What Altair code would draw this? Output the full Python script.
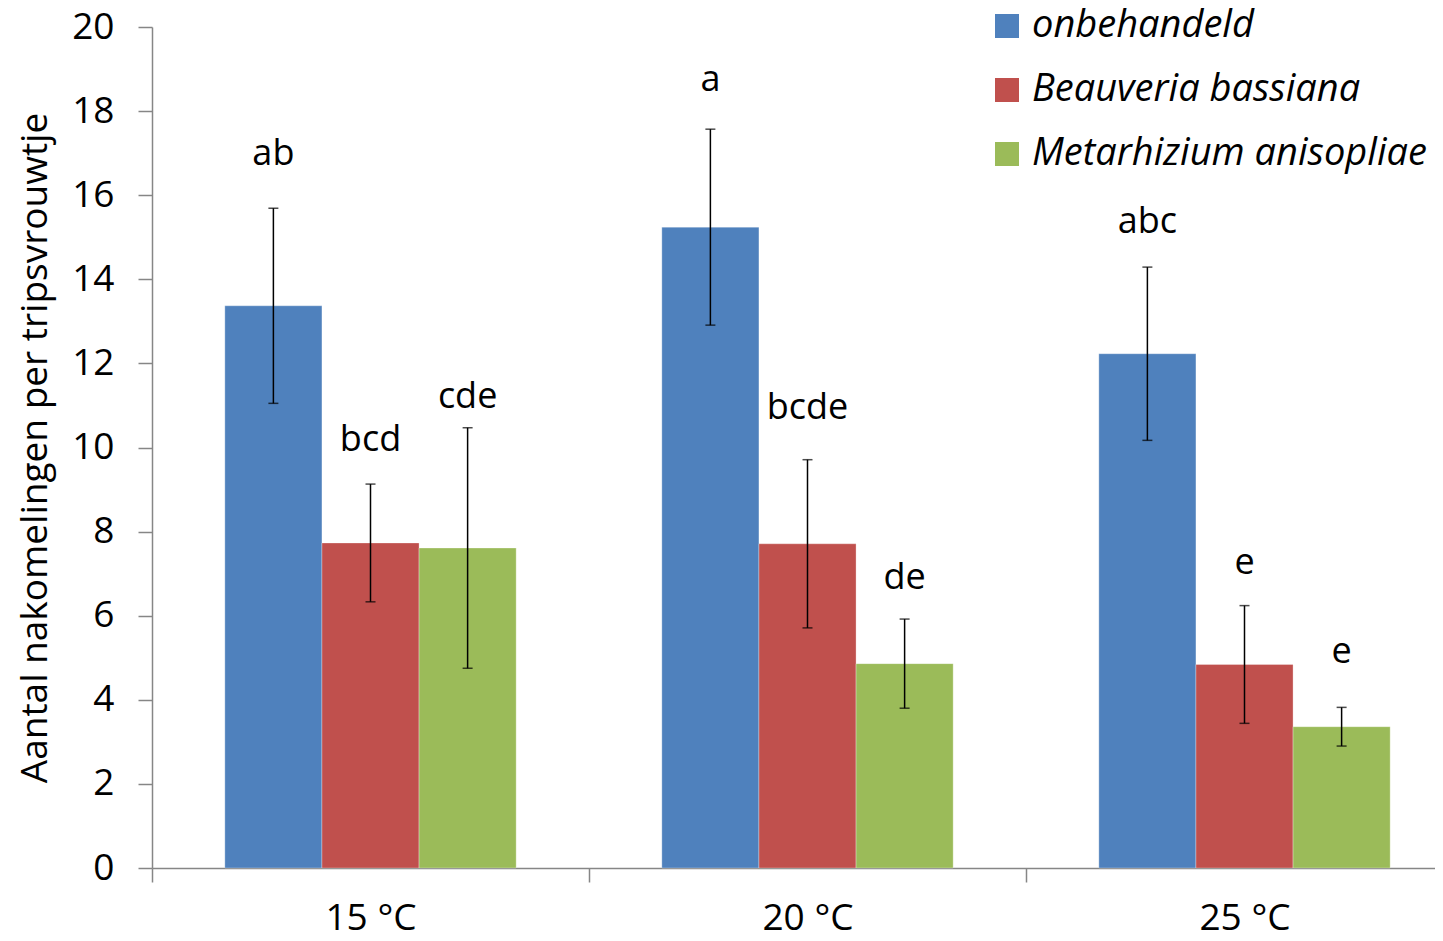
import altair as alt
import pandas as pd

temps = ["15 °C", "20 °C", "25 °C"]
treatments = ["onbehandeld", "Beauveria bassiana", "Metarhizium anisopliae"]
colors = ["#4F81BD", "#C0504D", "#9BBB59"]

mean_onb = [13.37, 15.24, 12.23]
mean_bea = [7.73, 7.71, 4.84]
mean_met = [7.61, 4.86, 3.36]

err_onb = [2.32, 2.33, 2.06]
err_bea = [1.40, 2.00, 1.40]
err_met = [2.86, 1.06, 0.46]

letters_onb = ["ab", "a", "abc"]
letters_bea = ["bcd", "bcde", "e"]
letters_met = ["cde", "de", "e"]

label_y_onb = [16.98, 18.74, 15.36]
label_y_bea = [10.18, 10.94, 7.25]
label_y_met = [11.21, 6.90, 5.14]

y_ticks = [0, 2, 4, 6, 8, 10, 12, 14, 16, 18, 20]

rows = []
for t_i, (means, errs, lets, lys) in enumerate([
    (mean_onb, err_onb, letters_onb, label_y_onb),
    (mean_bea, err_bea, letters_bea, label_y_bea),
    (mean_met, err_met, letters_met, label_y_met),
]):
    for c_i, temp in enumerate(temps):
        rows.append({
            "temp": temp,
            "treatment": treatments[t_i],
            "mean": means[c_i],
            "lo": means[c_i] - errs[c_i],
            "hi": means[c_i] + errs[c_i],
            "letter": lets[c_i],
            "ly": lys[c_i],
        })
df = pd.DataFrame(rows)

FONT = "Open Sans"
AXIS_GREY = "#868686"

x = alt.X(
    "temp:N",
    sort=temps,
    scale=alt.Scale(range=[0, 1311], paddingInner=0, paddingOuter=0),
    axis=alt.Axis(
        title=None,
        labelAngle=0,
        labelFontSize=37,
        labelFont=FONT,
        labelColor="black",
        labelPadding=18,
        tickBand="extent",
        tickSize=14,
        tickColor=AXIS_GREY,
        tickWidth=1.5,
        domainColor=AXIS_GREY,
        domainWidth=1.5,
    ),
)
xo = alt.XOffset(
    "treatment:N",
    sort=treatments,
    scale=alt.Scale(paddingOuter=0.75, paddingInner=0),
)
y_scale = alt.Scale(domain=[0, 20], nice=False)

bars = alt.Chart(df).mark_bar(stroke="white", strokeOpacity=0.3, strokeWidth=1).encode(
    x=x,
    xOffset=xo,
    y=alt.Y(
        "mean:Q",
        scale=y_scale,
        axis=alt.Axis(
            title="Aantal nakomelingen per tripsvrouwtje",
            titleFontSize=37,
            titleFont=FONT,
            titleFontWeight="normal",
            titleColor="black",
            titlePadding=17,
            values=y_ticks,
            labelFontSize=37,
            labelFont=FONT,
            labelColor="black",
            labelPadding=24,
            tickSize=14,
            tickColor=AXIS_GREY,
            tickWidth=1.5,
            domainColor=AXIS_GREY,
            domainWidth=1.5,
            grid=False,
        ),
    ),
    color=alt.Color(
        "treatment:N",
        sort=treatments,
        scale=alt.Scale(domain=treatments, range=colors),
        legend=alt.Legend(
            title=None,
            orient="none",
            legendX=836,
            legendY=-20,
            symbolType="square",
            symbolSize=576,
            symbolStrokeWidth=0,
            symbolOpacity=1,
            labelFontSize=38,
            labelFont=FONT,
            labelFontStyle="italic",
            labelColor="black",
            labelOffset=6,
            rowPadding=26,
            labelLimit=600,
        ),
    ),
)

rules = alt.Chart(df).mark_rule(color="black", strokeWidth=1.5).encode(
    x=x, xOffset=xo, y=alt.Y("lo:Q", scale=y_scale), y2="hi:Q"
)
cap_hi = alt.Chart(df).mark_tick(color="black", thickness=1.5, size=10).encode(
    x=x, xOffset=xo, y=alt.Y("hi:Q", scale=y_scale)
)
cap_lo = alt.Chart(df).mark_tick(color="black", thickness=1.5, size=10).encode(
    x=x, xOffset=xo, y=alt.Y("lo:Q", scale=y_scale)
)
texts = alt.Chart(df).mark_text(
    font=FONT, fontSize=36, color="black", baseline="middle", align="center"
).encode(
    x=x, xOffset=xo, y=alt.Y("ly:Q", scale=y_scale), text="letter:N"
)

chart = alt.layer(bars, rules, cap_hi, cap_lo, texts).properties(
    width=1283,
    height=841,
    background="white",
    autosize=alt.AutoSizeParams(type="none"),
    padding={"left": 144, "top": 19, "right": 0, "bottom": 72},
).configure_view(stroke=None)

chart.save("out.html", embed_options={"renderer": "svg", "actions": False})
